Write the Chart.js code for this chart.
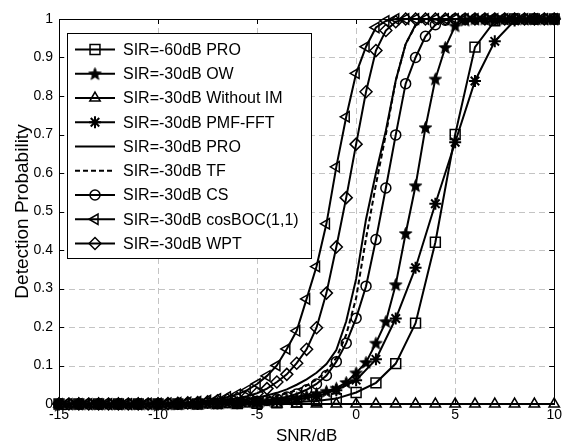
<!DOCTYPE html>
<html>
<head>
<meta charset="utf-8">
<script src="https://cdn.jsdelivr.net/npm/chart.js@4"></script>
<style>
  html, body { margin: 0; padding: 0; background: #fff; }
  #wrap { width: 565px; height: 448px; }
</style>
</head>
<body>
<div id="wrap"><canvas id="detChart" width="565" height="448"></canvas></div>
<script>
// SNR axis values (dB)
const snrHalf = [-15, -14.5, -14, -13.5, -13, -12.5, -12, -11.5, -11, -10.5, -10, -9.5, -9, -8.5, -8, -7.5, -7, -6.5, -6, -5.5,
  -5, -4.5, -4, -3.5, -3, -2.5, -2, -1.5, -1, -0.5, 0, 0.5, 1, 1.5, 2, 2.5, 3, 3.5, 4, 4.5,
  5, 5.5, 6, 6.5, 7, 7.5, 8, 8.5, 9, 9.5, 10];
const snrOne = [-15, -14, -13, -12, -11, -10, -9, -8, -7, -6, -5, -4, -3, -2, -1, 0, 1, 2, 3, 4, 5, 6, 7, 8, 9, 10];

const xTicks = [-15, -10, -5, 0, 5, 10];
const yTicks = [0, 0.1, 0.2, 0.3, 0.4, 0.5, 0.6, 0.7, 0.8, 0.9, 1];

// detection probability
const pro60 = [0, 0, 0, 0, 0, 0, 0, 0, 0.001, 0.001, 0.002, 0.003, 0.005, 0.008, 0.014, 0.03, 0.055, 0.105, 0.21, 0.42,
  0.70, 0.927, 0.995, 1, 1, 1];
const ow = [0, 0, 0, 0, 0, 0, 0, 0, 0, 0, 0, 0, 0, 0.001, 0.001, 0.002, 0.002, 0.003, 0.004, 0.005,
  0.006, 0.008, 0.01, 0.013, 0.016, 0.021, 0.027, 0.033, 0.041, 0.056, 0.081, 0.108, 0.158, 0.214, 0.31, 0.443, 0.567, 0.718, 0.844, 0.926,
  0.982, 0.997, 1, 1, 1, 1, 1, 1, 1, 1, 1];
const withoutIM = [0, 0, 0, 0, 0, 0, 0, 0, 0, 0, 0, 0, 0, 0, 0, 0, 0, 0, 0, 0, 0, 0, 0, 0, 0, 0];
const pmfFft = [0, 0, 0, 0, 0, 0, 0, 0, 0.001, 0.002, 0.004, 0.007, 0.012, 0.02, 0.036, 0.062, 0.116, 0.222, 0.354, 0.52,
  0.68, 0.839, 0.942, 0.996, 1, 1];
const pro30 = [0, 0, 0, 0, 0, 0, 0, 0, 0, 0, 0, 0, 0.001, 0.002, 0.003, 0.004, 0.006, 0.008, 0.01, 0.013,
  0.017, 0.022, 0.029, 0.038, 0.05, 0.064, 0.081, 0.104, 0.14, 0.215, 0.325, 0.48, 0.6, 0.71, 0.84, 0.935, 0.985, 1, 1, 1,
  1, 1, 1, 1, 1, 1, 1, 1, 1, 1, 1];
const tf = [0, 0, 0, 0, 0, 0, 0, 0, 0, 0, 0, 0, 0.001, 0.001, 0.002, 0.003, 0.004, 0.005, 0.007, 0.009,
  0.012, 0.016, 0.021, 0.028, 0.036, 0.048, 0.063, 0.085, 0.12, 0.18, 0.275, 0.43, 0.57, 0.70, 0.84, 0.935, 0.983, 0.998, 1, 1,
  1, 1, 1, 1, 1, 1, 1, 1, 1, 1, 1];
const cs = [0, 0, 0, 0, 0, 0, 0, 0, 0, 0, 0, 0, 0, 0.001, 0.001, 0.002, 0.002, 0.003, 0.004, 0.005,
  0.007, 0.009, 0.013, 0.018, 0.026, 0.037, 0.052, 0.074, 0.11, 0.158, 0.223, 0.306, 0.427, 0.561, 0.699, 0.832, 0.9, 0.955, 0.985, 0.997,
  1, 1, 1, 1, 1, 1, 1, 1, 1, 1, 1];
const cosBoc = [0, 0, 0, 0, 0, 0, 0, 0, 0, 0.001, 0.001, 0.002, 0.003, 0.004, 0.006, 0.009, 0.013, 0.018, 0.025, 0.036,
  0.052, 0.073, 0.1, 0.143, 0.19, 0.273, 0.357, 0.468, 0.616, 0.746, 0.859, 0.928, 0.978, 0.995, 1, 1, 1, 1, 1, 1,
  1, 1, 1, 1, 1, 1, 1, 1, 1, 1, 1];
const wpt = [0, 0, 0, 0, 0, 0, 0, 0, 0, 0, 0, 0.001, 0.002, 0.003, 0.004, 0.006, 0.008, 0.011, 0.015, 0.02,
  0.028, 0.04, 0.057, 0.077, 0.106, 0.142, 0.198, 0.288, 0.408, 0.536, 0.675, 0.811, 0.918, 0.97, 0.993, 1, 1, 1, 1, 1,
  1, 1, 1, 1, 1, 1, 1, 1, 1, 1, 1];

const FONT = '"Liberation Sans", Arial, Helvetica, sans-serif';

// pentagram marker (MATLAB 'p')
function makePentagram(size) {
  const c = document.createElement('canvas');
  c.width = size; c.height = size;
  const g = c.getContext('2d');
  const cx = size / 2, cy = size / 2 + 0.5, ro = size / 2 - 1, ri = ro * 0.42;
  g.beginPath();
  for (let k = 0; k < 10; k++) {
    const r = k % 2 === 0 ? ro : ri;
    const a = -Math.PI / 2 + k * Math.PI / 5;
    const px = cx + r * Math.cos(a), py = cy + r * Math.sin(a);
    if (k === 0) g.moveTo(px, py); else g.lineTo(px, py);
  }
  g.closePath();
  g.fillStyle = '#000';
  g.fill();
  g.lineWidth = 1;
  g.strokeStyle = '#000';
  g.stroke();
  return c;
}
const pentagram = makePentagram(15);

function pts(xs, ys) {
  return xs.map((x, i) => ({ x: x, y: ys[i] }));
}

function series(label, xs, ys, style, extra) {
  return Object.assign({
    label: label,
    data: pts(xs, ys),
    borderColor: '#000',
    borderWidth: 2,
    pointStyle: style,
    pointRadius: style ? 5 : 0,
    pointBorderColor: '#000',
    pointBackgroundColor: 'rgba(0,0,0,0)',
    pointBorderWidth: 1.5,
    tension: 0,
    clip: false,
    fill: false
  }, extra || {});
}

const datasets = [
  series('SIR=-60dB PRO', snrOne, pro60, 'rect', { pointRadius: 7 }),
  series('SIR=-30dB OW', snrHalf, ow, pentagram, { pointRadius: 6 }),
  series('SIR=-30dB Without IM', snrOne, withoutIM, 'triangle', { pointRadius: 6 }),
  series('SIR=-30dB PMF-FFT', snrOne, pmfFft, 'star', { pointRadius: 6, pointBorderWidth: 2 }),
  series('SIR=-30dB PRO', snrHalf, pro30, false),
  series('SIR=-30dB TF', snrHalf, tf, false, { borderDash: [5, 3] }),
  series('SIR=-30dB CS', snrHalf, cs, 'circle', { pointRadius: 5 }),
  series('SIR=-30dB cosBOC(1,1)', snrHalf, cosBoc, 'triangle', { pointRadius: 6, pointRotation: -90 }),
  series('SIR=-30dB WPT', snrHalf, wpt, 'rectRot', { pointRadius: 6 })
];

// dashed grid, box frame with inward ticks, MATLAB style
const frameTicks = {
  id: 'frameTicks',
  beforeDatasetsDraw(chart) {
    const { ctx, chartArea: a, scales } = chart;
    ctx.save();
    ctx.strokeStyle = '#c4c4c4';
    ctx.lineWidth = 1;
    ctx.setLineDash([6, 4]);
    ctx.beginPath();
    xTicks.slice(1, -1).forEach(v => {
      const px = Math.round(scales.x.getPixelForValue(v)) + 0.5;
      ctx.moveTo(px, a.bottom); ctx.lineTo(px, a.top);
    });
    yTicks.slice(1, -1).forEach(v => {
      const py = Math.round(scales.y.getPixelForValue(v)) + 0.5;
      ctx.moveTo(a.left, py); ctx.lineTo(a.right, py);
    });
    ctx.stroke();
    ctx.setLineDash([]);

    ctx.strokeStyle = '#000';
    ctx.strokeRect(Math.round(a.left) + 0.5, Math.round(a.top) + 0.5, Math.round(a.right - a.left), Math.round(a.bottom - a.top));
    ctx.beginPath();
    xTicks.forEach(v => {
      const px = Math.round(scales.x.getPixelForValue(v)) + 0.5;
      ctx.moveTo(px, a.bottom); ctx.lineTo(px, a.bottom - 5);
      ctx.moveTo(px, a.top); ctx.lineTo(px, a.top + 5);
    });
    yTicks.forEach(v => {
      const py = Math.round(scales.y.getPixelForValue(v)) + 0.5;
      ctx.moveTo(a.left, py); ctx.lineTo(a.left + 5, py);
      ctx.moveTo(a.right, py); ctx.lineTo(a.right - 5, py);
    });
    ctx.stroke();
    ctx.restore();
  }
};

// legend box in upper left, line sample with marker
const legendBox = {
  id: 'legendBox',
  afterDatasetsDraw(chart) {
    const ctx = chart.ctx;
    const x0 = 67, y0 = 33, w = 244, h = 225, rowH = 24.25;
    ctx.save();
    ctx.fillStyle = '#fff';
    ctx.fillRect(x0, y0, w, h);
    ctx.strokeStyle = '#000';
    ctx.lineWidth = 1;
    ctx.strokeRect(x0 + 0.5, y0 + 0.5, w, h);
    chart.data.datasets.forEach((ds, i) => {
      const cy = y0 + 16.5 + i * rowH;
      ctx.strokeStyle = '#000';
      ctx.lineWidth = 2;
      ctx.setLineDash(ds.borderDash || []);
      ctx.beginPath();
      ctx.moveTo(x0 + 8, cy);
      ctx.lineTo(x0 + 48, cy);
      ctx.stroke();
      ctx.setLineDash([]);
      if (ds.pointStyle) {
        ctx.lineWidth = ds.pointBorderWidth;
        ctx.fillStyle = ds.pointBackgroundColor;
        Chart.helpers.drawPoint(ctx, {
          pointStyle: ds.pointStyle,
          rotation: ds.pointRotation || 0,
          radius: ds.pointRadius,
          borderWidth: ds.pointBorderWidth
        }, x0 + 28, cy);
      }
      ctx.fillStyle = '#000';
      ctx.font = '16px ' + FONT;
      ctx.textAlign = 'left';
      ctx.textBaseline = 'middle';
      ctx.fillText(ds.label, x0 + 56, cy + 1);
    });
    ctx.restore();
  }
};

new Chart(document.getElementById('detChart'), {
  type: 'line',
  data: { datasets: datasets },
  plugins: [frameTicks, legendBox],
  options: {
    responsive: false,
    animation: false,
    devicePixelRatio: 1,
    layout: { padding: { top: 19, right: 10, left: 0, bottom: 0 } },
    plugins: {
      legend: { display: false },
      tooltip: { enabled: false }
    },
    scales: {
      x: {
        type: 'linear',
        min: -15,
        max: 10,
        afterFit: s => { s.height = 44; },
        afterBuildTicks: s => { s.ticks = xTicks.map(v => ({ value: v })); },
        ticks: { color: '#000', font: { family: FONT, size: 14 }, padding: 3, maxRotation: 0 },
        grid: { display: false, drawTicks: false },
        border: { display: false },
        title: { display: true, text: 'SNR/dB', color: '#000', font: { family: FONT, size: 17 }, padding: { top: 0, bottom: 1 } }
      },
      y: {
        min: 0,
        max: 1,
        afterFit: s => { s.width = 59; },
        afterBuildTicks: s => { s.ticks = yTicks.map(v => ({ value: v })); },
        ticks: {
          color: '#000', font: { family: FONT, size: 14 }, padding: 6,
          callback: v => String(Math.round(v * 10) / 10)
        },
        grid: { display: false, drawTicks: false },
        border: { display: false },
        title: { display: true, text: 'Detection Probability', color: '#000', font: { family: FONT, size: 19 }, padding: { top: 11, bottom: 0 } }
      }
    }
  }
});
</script>
</body>
</html>
